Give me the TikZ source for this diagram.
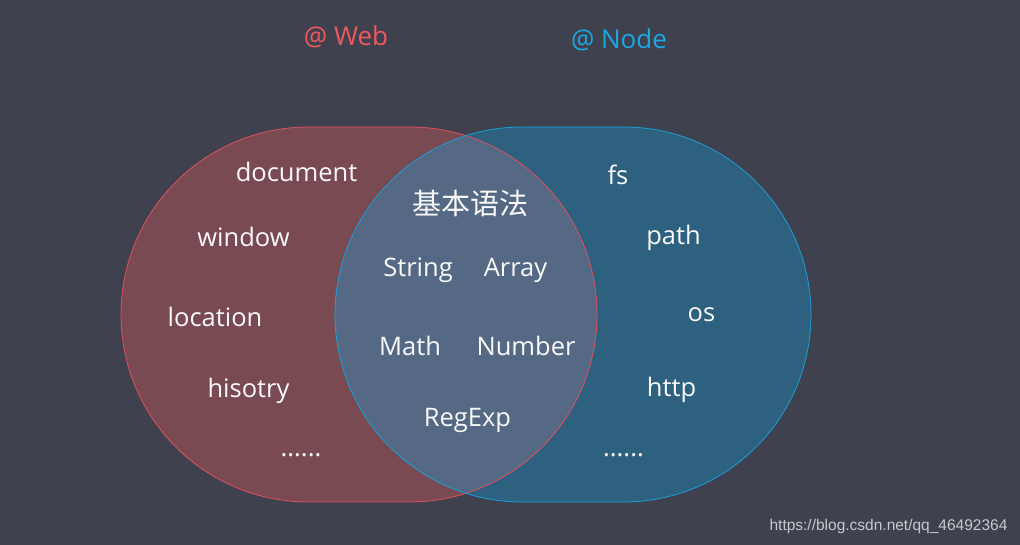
\documentclass[tikz,border=0pt]{standalone}
\usepackage{fontspec}
\setmainfont{Open Sans}
\newfontfamily\cjkfont{Noto Sans CJK SC}
\newfontfamily\wmfont{Liberation Sans}
\definecolor{bgc}{HTML}{3F414F}
\definecolor{webfill}{HTML}{7A4A53}
\definecolor{nodefill}{HTML}{2E617F}
\definecolor{bothfill}{HTML}{566984}
\definecolor{webline}{HTML}{E0505E}
\definecolor{nodeline}{HTML}{1A9FD6}
\definecolor{webtitle}{HTML}{F0595E}
\definecolor{nodetitle}{HTML}{1CA8E0}
\definecolor{wmgray}{HTML}{C8C8CC}
\def\webshape{(308.5,418) -- (409.5,418) arc[start angle=90,end angle=-90,radius=187.5] -- (308.5,43) arc[start angle=270,end angle=90,radius=187.5] -- cycle}
\def\nodeshape{(522.5,418) -- (623.5,418) arc[start angle=90,end angle=-90,radius=187.5] -- (522.5,43) arc[start angle=270,end angle=90,radius=187.5] -- cycle}
\begin{document}
\begin{tikzpicture}[x=1pt,y=1pt,
  lbl/.style={anchor=base,inner sep=0pt,text=white!95!gray,font=\fontsize{25.5}{30}\selectfont},
  ttl/.style={anchor=base,inner sep=0pt,font=\fontsize{26}{31}\selectfont}]
\fill[bgc] (0,0) rectangle (1020,545);
\useasboundingbox (0,0) rectangle (1020,545);
\fill[webfill] \webshape;
\fill[nodefill] \nodeshape;
\begin{scope}
\clip \webshape;
\fill[bothfill] \nodeshape;
\end{scope}
\draw[webline,line width=0.8pt] \webshape;
\draw[nodeline,line width=0.8pt] \nodeshape;
\node[ttl,text=webtitle] (web) at (346,499) {@ Web};
\node[ttl,text=nodetitle] (nd) at (619,496) {@ Node};
\node[lbl] (document) at (296.5,363) {document};
\node[lbl] (window) at (243.5,298) {window};
\node[lbl] (location) at (215,218) {location};
\node[lbl] (hisotry) at (248.5,147) {hisotry};
\node[lbl] (wdots) at (301,88) {......};
\node[inner sep=0pt,text=white!95!gray,font=\cjkfont\fontsize{29}{34}\selectfont] (basic) at (470,342) {基本语法};
\node[lbl] (string) at (418,268) {String};
\node[lbl] (array) at (515.5,268) {Array};
\node[lbl] (math) at (410,189) {Math};
\node[lbl] (number) at (526,189) {Number};
\node[lbl] (regexp) at (467.5,118) {RegExp};
\node[lbl] (fs) at (618,360) {fs};
\node[lbl] (path) at (673.5,300) {path};
\node[lbl] (os) at (701.5,223) {os};
\node[lbl] (http) at (671.5,148) {http};
\node[lbl] (ndots) at (623.5,88) {......};
\node[anchor=base,inner sep=0pt,text=wmgray,font=\wmfont\fontsize{15.5}{18}\selectfont] (wm) at (888.5,14) {https://blog.csdn.net/qq\_46492364};
\end{tikzpicture}
\end{document}
